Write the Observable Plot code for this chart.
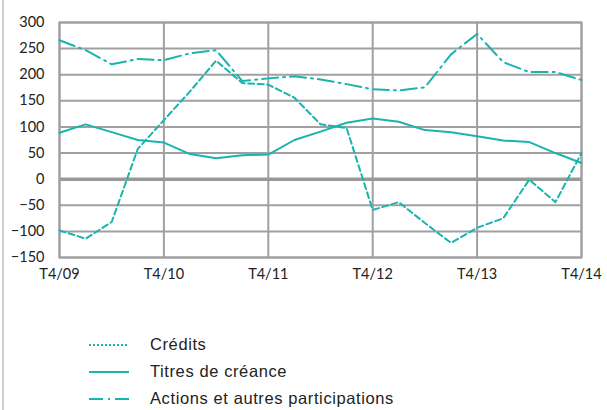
<!DOCTYPE html>
<html>
<head>
<meta charset="utf-8">
<script src="https://cdn.jsdelivr.net/npm/d3@7"></script>
<script src="https://cdn.jsdelivr.net/npm/@observablehq/plot@0.6"></script>
<style>
  html, body { margin: 0; padding: 0; background: #fff; }
  #wrap { position: relative; width: 607px; height: 410px; overflow: hidden; }
  #wrap::before { content: ""; position: absolute; left: 2px; top: 0; bottom: 0; width: 2px; background: #d0d0d0; }
  #chart { position: absolute; left: 0; top: 0; }
  .legend { position: absolute; left: 89px; top: 331px; font-family: "Liberation Sans", Arial, sans-serif; font-size: 16.5px; letter-spacing: 0.6px; color: #222; }
  .legend .item { display: flex; align-items: center; height: 27px; }
  .legend svg { width: 40px; height: 6px; margin-right: 21px; }
</style>
</head>
<body>
<div id="wrap">
  <div id="chart"></div>
  <div class="legend" id="legend"></div>
</div>
<script>
// Quarterly flows, T4/09 to T4/14 (21 quarters)
const quarters = d3.range(21);
const yearLabels = ["T4/09", "T4/10", "T4/11", "T4/12", "T4/13", "T4/14"];
const yearIdx = [0, 4, 8, 12, 16, 20];
const yTicks = [-150, -100, -50, 0, 50, 100, 150, 200, 250, 300];

const credits = [-98, -114, -82, 58, 113, 168, 227, 184, 181, 156, 105, 98, -59, -44, -84, -122, -93, -75, -1, -44, 50];
const titres  = [89, 105, 90, 75, 70, 48, 40, 46, 47, 75, 91, 108, 116, 110, 94, 90, 82, 74, 71, 50, 31];
const actions = [266, 247, 220, 230, 228, 241, 247, 188, 193, 197, 191, 182, 172, 170, 176, 239, 278, 224, 205, 205, 190];

const teal = "#19b4ae";
const gridColor = "#a0a0a0";

const series = [
  {name: "Crédits", values: credits, dash: "6,3.5", legendDash: "2,2"},
  {name: "Titres de créance", values: titres, dash: null, legendDash: null},
  {name: "Actions et autres participations", values: actions, dash: "16,5,2,5", legendDash: "14,5,2,5"}
];

const lineMarks = series.map(s =>
  Plot.line(quarters, {
    x: d => d,
    y: d => s.values[d],
    stroke: teal,
    strokeWidth: 2,
    strokeDasharray: s.dash
  })
);

const chart = Plot.plot({
  width: 607,
  height: 300,
  marginLeft: 59,
  marginRight: 26,
  marginTop: 22,
  marginBottom: 43,
  style: {fontFamily: "Lato, 'Open Sans', sans-serif", fontSize: "14px", color: "#222", background: "transparent"},
  x: {type: "linear", domain: [0, 20]},
  y: {domain: [-150, 300]},
  marks: [
    Plot.ruleY(yTicks.filter(v => v !== 0), {stroke: gridColor, strokeWidth: 2}),
    Plot.ruleX(yearIdx, {stroke: gridColor, strokeWidth: 2}),
    Plot.ruleY([0], {stroke: "#999", strokeWidth: 3.5}),
    Plot.frame({stroke: gridColor, strokeWidth: 2}),
    ...lineMarks,
    Plot.axisY(yTicks, {tickSize: 0, tickPadding: 15, label: null, fontSize: 14.5}),
    Plot.axisX(yearIdx, {tickSize: 0, tickPadding: 11, label: null, fontSize: 14.5,
      tickFormat: d => yearLabels[yearIdx.indexOf(d)]})
  ]
});
document.getElementById("chart").appendChild(chart);

// Legend below the chart
const legend = document.getElementById("legend");
for (const s of series) {
  const item = document.createElement("div");
  item.className = "item";
  const sample = `<svg viewBox="0 0 40 6"><line x1="0" y1="3" x2="40" y2="3" stroke="${teal}" stroke-width="2" ${s.legendDash ? `stroke-dasharray="${s.legendDash}"` : ""}/></svg>`;
  item.innerHTML = sample + `<span>${s.name}</span>`;
  legend.appendChild(item);
}
</script>
</body>
</html>
